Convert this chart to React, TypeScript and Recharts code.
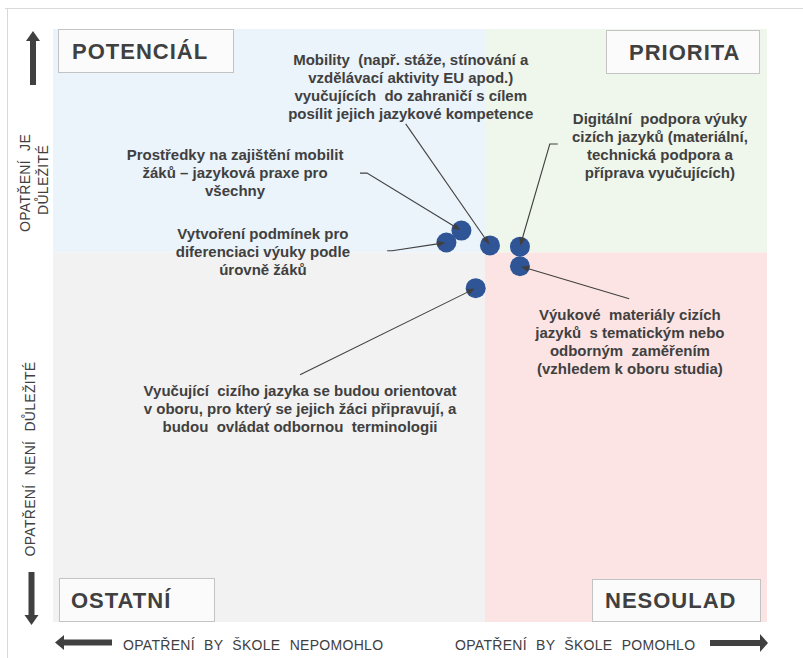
import {
  ScatterChart,
  Scatter,
  XAxis,
  YAxis,
  ReferenceArea,
  ReferenceLine,
  ReferenceDot,
} from "recharts";

// opatření (measures) and where they sit in the matrix
const items = [
  "Prostředky na zajištění mobilit žáků – jazyková praxe pro všechny",
  "Vytvoření podmínek pro diferenciaci výuky podle úrovně žáků",
  "Mobility (např. stáže, stínování a vzdělávací aktivity EU apod.) vyučujících do zahraničí s cílem posílit jejich jazykové kompetence",
  "Digitální podpora výuky cizích jazyků (materiální, technická podpora a příprava vyučujících)",
  "Výukové materiály cizích jazyků s tematickým nebo odborným zaměřením (vzhledem k oboru studia)",
  "Vyučující cizího jazyka se budou orientovat v oboru, pro který se jejich žáci připravují, a budou ovládat odbornou terminologii",
];
const helpValues = [57.2, 55.1, 61.2, 65.4, 65.4, 59.2];
const importanceValues = [66.0, 64.0, 63.5, 63.3, 60.0, 56.3];

const helpSplit = 60.5;
const importanceSplit = 62.3;

const itemLines = [
  ["Prostředky na zajištění mobilit", "žáků – jazyková praxe pro", "všechny"],
  ["Vytvoření podmínek pro", "diferenciaci výuky podle", "úrovně žáků"],
  [
    "Mobility  (např. stáže, stínování a",
    "vzdělávací aktivity EU apod.)",
    "vyučujících  do zahraničí s cílem",
    "posílit jejich jazykové kompetence",
  ],
  ["Digitální  podpora výuky", "cizích jazyků (materiální,", "technická podpora a", "příprava vyučujících)"],
  ["Výukové  materiály cizích", "jazyků  s tematickým nebo", "odborným  zaměřením", "(vzhledem k oboru studia)"],
  [
    "Vyučující  cizího jazyka se budou orientovat",
    "v oboru, pro který se jejich žáci připravují, a",
    "budou  ovládat odbornou  terminologii",
  ],
];

// callout layout: text anchor + leader start, in chart units
const callouts = [
  { tx: 25.5, ty: 77.9, sx: 43.0, sy: 75.7, elbow: 7 },
  { tx: 29.4, ty: 64.6, sx: 46.8, sy: 62.6, elbow: 5 },
  { tx: 50.1, ty: 93.9, sx: 49.4, sy: 84.0, elbow: 0 },
  { tx: 85.0, ty: 84.0, sx: 70.7, sy: 80.6, elbow: -8 },
  { tx: 80.8, ty: 50.9, sx: 80.7, sy: 54.5, elbow: 0 },
  { tx: 34.6, ty: 38.1, sx: 34.6, sy: 41.7, elbow: 0 },
];

const data = items.map((name, i) => ({
  name,
  x: helpValues[i],
  y: importanceValues[i],
}));

const FONT = "'Liberation Sans', Arial, sans-serif";
const INK = "#404040";

const Leader = (props: any) => {
  const { x1, y1, x2, y2, elbow } = props;
  if (x1 == null || x2 == null) return null;
  const ex = x1 + (elbow || 0);
  const ang = Math.atan2(y2 - y1, x2 - ex);
  const tx = x2 - Math.cos(ang) * 1;
  const ty = y2 - Math.sin(ang) * 1;
  const len = 8;
  const w = 3.2;
  const bx = tx - Math.cos(ang) * len;
  const by = ty - Math.sin(ang) * len;
  const px = -Math.sin(ang) * w;
  const py = Math.cos(ang) * w;
  return (
    <g>
      <polyline
        points={`${x1},${y1} ${ex},${y1} ${bx},${by}`}
        fill="none"
        stroke={INK}
        strokeWidth={1.1}
      />
      <polygon
        points={`${tx},${ty} ${bx + px},${by + py} ${bx - px},${by - py}`}
        fill={INK}
      />
    </g>
  );
};

const CalloutText = ({ cx, cy, lines }: any) => {
  if (cx == null) return null;
  return (
    <text
      x={cx}
      y={cy}
      textAnchor="middle"
      fontFamily={FONT}
      fontWeight="bold"
      fontSize={15}
      fill={INK}
      style={{ whiteSpace: "pre" }}
    >
      {lines.map((l: string, i: number) => (
        <tspan key={i} x={cx} y={cy + i * 18}>
          {l}
        </tspan>
      ))}
    </text>
  );
};

const Dot = (props: any) => (
  <circle cx={props.cx} cy={props.cy} r={10} fill="#2F5597" />
);

const QuadBox = ({ x, y, w, h, label, tx }: any) => (
  <g>
    <rect x={x} y={y} width={w} height={h} fill="#fbfbfb" stroke="#c3c3c3" strokeWidth={1} />
    <text
      x={tx}
      y={y + h - 14}
      fontFamily={FONT}
      fontWeight="bold"
      fontSize={22}
      letterSpacing={1}
      fill={INK}
    >
      {label}
    </text>
  </g>
);

const Decorations = () => (
  <svg
    width={803}
    height={658}
    style={{ position: "absolute", left: 0, top: 0, pointerEvents: "none" }}
  >
    <line x1={5} y1={8.5} x2={803} y2={8.5} stroke="#d9d9d9" />
    <line x1={7.5} y1={8} x2={7.5} y2={658} stroke="#d9d9d9" />

    <QuadBox x={58.5} y={29.5} w={175} h={43} label="POTENCIÁL" tx={72} />
    <QuadBox x={606.5} y={30.5} w={153} h={43} label="PRIORITA" tx={629} />
    <QuadBox x={59.5} y={578.5} w={155} h={43} label="OSTATNÍ" tx={71} />
    <QuadBox x={592.5} y={579.5} w={168} h={42} label="NESOULAD" tx={605} />

    {/* vertical arrows */}
    <rect x={30} y={40} width={6} height={45} fill={INK} />
    <polygon points="33,31 26,41 40,41" fill={INK} />
    <rect x={28.5} y={572} width={6} height={44} fill={INK} />
    <polygon points="31.5,625 24.5,615 38.5,615" fill={INK} />
    {/* horizontal arrows */}
    <rect x={63} y={639.5} width={49} height={6} fill={INK} />
    <polygon points="55,642.5 64,635 64,650" fill={INK} />
    <rect x={710} y={640} width={51} height={6} fill={INK} />
    <polygon points="768,643 760,634 760,652" fill={INK} />

    <text x={123} y={650} fontFamily={FONT} fontSize={14} wordSpacing={5} letterSpacing={0.3} fill={INK}>
      OPATŘENÍ BY ŠKOLE NEPOMOHLO
    </text>
    <text x={455} y={650} fontFamily={FONT} fontSize={14} wordSpacing={5} letterSpacing={0.3} fill={INK}>
      OPATŘENÍ BY ŠKOLE POMOHLO
    </text>

    <text
      transform="translate(30,183) rotate(-90)"
      textAnchor="middle"
      fontFamily={FONT}
      fontSize={14}
      wordSpacing={5}
      letterSpacing={0.3}
      fill={INK}
    >
      OPATŘENÍ JE
    </text>
    <text
      transform="translate(48,180) rotate(-90)"
      textAnchor="middle"
      fontFamily={FONT}
      fontSize={14}
      letterSpacing={0.3}
      fill={INK}
    >
      DŮLEŽITÉ
    </text>
    <text
      transform="translate(35,459) rotate(-90)"
      textAnchor="middle"
      fontFamily={FONT}
      fontSize={14}
      wordSpacing={5}
      letterSpacing={0.3}
      fill={INK}
    >
      OPATŘENÍ NENÍ DŮLEŽITÉ
    </text>
  </svg>
);

export default function App() {
  return (
    <div
      style={{
        position: "absolute",
        left: 0,
        top: 0,
        width: 803,
        height: 658,
        background: "#fff",
      }}
    >
      <ScatterChart
        width={803}
        height={658}
        margin={{ top: 29, right: 36, bottom: 36, left: 53 }}
      >
        <XAxis type="number" dataKey="x" domain={[0, 100]} hide />
        <YAxis type="number" dataKey="y" domain={[0, 100]} hide />
        <ReferenceArea x1={0} x2={helpSplit} y1={importanceSplit} y2={100} fill="#ebf3fb" fillOpacity={1} stroke="none" />
        <ReferenceArea x1={helpSplit} x2={100} y1={importanceSplit} y2={100} fill="#eff6ec" fillOpacity={1} stroke="none" />
        <ReferenceArea x1={0} x2={helpSplit} y1={0} y2={importanceSplit} fill="#f2f2f2" fillOpacity={1} stroke="none" />
        <ReferenceArea x1={helpSplit} x2={100} y1={0} y2={importanceSplit} fill="#fde4e4" fillOpacity={1} stroke="none" />
        <Scatter data={data} fill="#2F5597" shape={Dot} isAnimationActive={false} />
        {callouts.map((c, i) => (
          <ReferenceLine
            key={`l${i}`}
            segment={[
              { x: c.sx, y: c.sy },
              { x: helpValues[i], y: importanceValues[i] },
            ]}
            zIndex={700}
            shape={(p: any) => <Leader {...p} elbow={c.elbow} />}
          />
        ))}
        {callouts.map((c, i) => (
          <ReferenceDot
            key={`t${i}`}
            x={c.tx}
            y={c.ty}
            r={0}
            zIndex={700}
            shape={(p: any) => <CalloutText {...p} lines={itemLines[i]} />}
          />
        ))}
      </ScatterChart>
      <Decorations />
    </div>
  );
}
